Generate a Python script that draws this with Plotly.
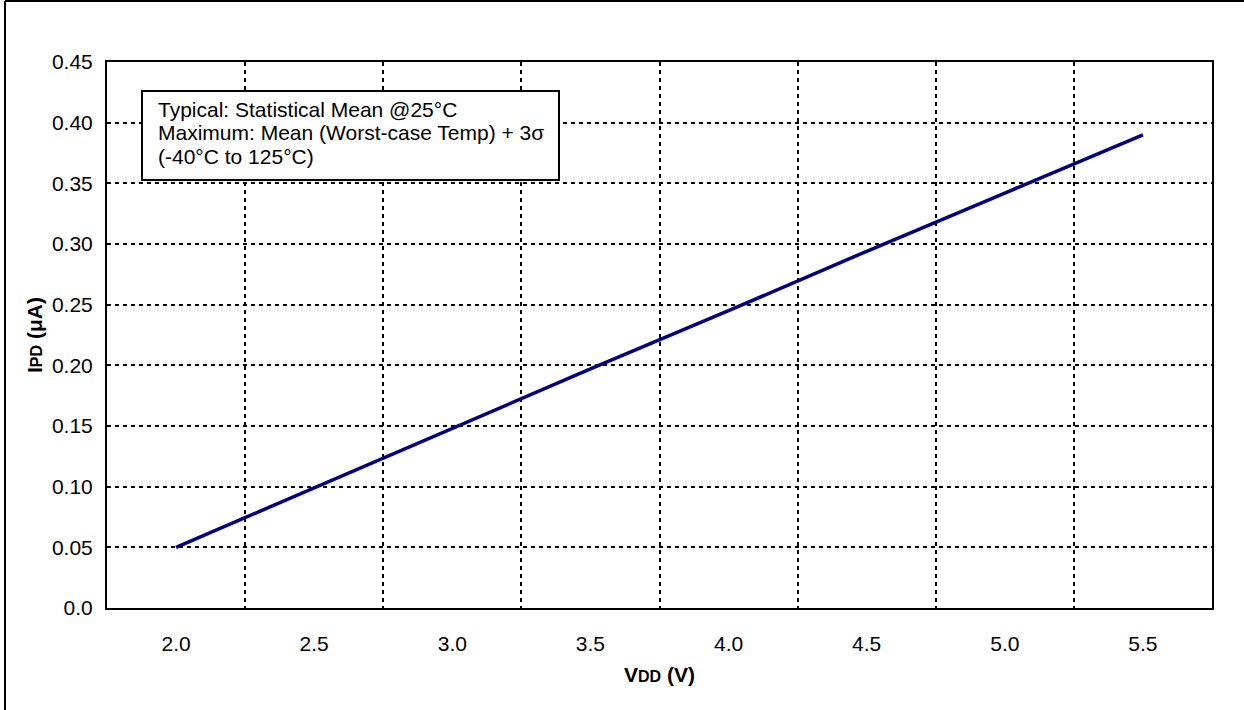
import plotly.graph_objects as go

# ---- data ----
vdd = [2.0, 2.5, 3.0, 3.5, 4.0, 4.5, 5.0, 5.5]
ipd = [0.050, 0.099, 0.148, 0.197, 0.245, 0.294, 0.342, 0.390]
x_tick_labels = ["2.0", "2.5", "3.0", "3.5", "4.0", "4.5", "5.0", "5.5"]
y_tick_vals = [0.0, 0.05, 0.10, 0.15, 0.20, 0.25, 0.30, 0.35, 0.40, 0.45]
y_tick_labels = ["0.0", "0.05", "0.10", "0.15", "0.20", "0.25", "0.30", "0.35", "0.40", "0.45"]
note_lines = [
    "Typical: Statistical Mean @25°C",
    "Maximum: Mean (Worst-case Temp) + 3σ",
    "(-40°C to 125°C)",
]

FONT = "Arial, 'Liberation Sans', sans-serif"
W, H = 1244, 710
ML, MR, MT, MB = 107, 32, 62, 102
PW, PH = W - ML - MR, H - MT - MB


def px_x(px):
    return (px - ML) / PW


def px_y(py):
    return (H - MB - py) / PH


fig = go.Figure()
fig.add_trace(go.Scatter(x=vdd, y=ipd, mode="lines",
                         line=dict(color="#000080", width=3.5),
                         showlegend=False, hoverinfo="skip"))

fig.update_layout(
    width=W, height=H,
    margin=dict(l=ML, r=MR, t=MT, b=MB),
    paper_bgcolor="white", plot_bgcolor="white",
    font=dict(family=FONT, size=21, color="black"),
    showlegend=False,
)

fig.update_xaxes(
    range=[1.75, 5.75],
    tickmode="array", tickvals=vdd, ticktext=x_tick_labels,
    showgrid=False, zeroline=False,
    showline=True, mirror=True, linecolor="black", linewidth=2,
    ticks="", ticklabelstandoff=16,
    tickfont=dict(family=FONT, size=21, color="black"),
    minor=dict(tick0=2.25, dtick=0.5, showgrid=True, gridcolor="black",
               griddash="4px,4px", gridwidth=2, ticks=""),
)
fig.update_yaxes(
    range=[0, 0.45],
    tickmode="array", tickvals=y_tick_vals, ticktext=y_tick_labels,
    showgrid=True, gridcolor="black", griddash="4px,4px", gridwidth=2,
    zeroline=False,
    showline=True, mirror=True, linecolor="black", linewidth=2,
    ticks="", ticklabelstandoff=8,
    tickfont=dict(family=FONT, size=21, color="black"),
)

# note box
fig.add_shape(type="rect", xref="paper", yref="paper",
              x0=px_x(142), x1=px_x(559), y0=px_y(180), y1=px_y(91),
              line=dict(color="black", width=2), fillcolor="white", layer="above")
for txt, cy in zip(note_lines, [109, 132.5, 156]):
    fig.add_annotation(text=txt, xref="paper", yref="paper",
                       x=px_x(156), y=px_y(cy), xanchor="left", yanchor="middle",
                       showarrow=False, font=dict(family=FONT, size=21, color="black"))

# axis titles
fig.add_annotation(text="<b>V<span style='font-size:16px'>DD</span> (V)</b>",
                   xref="paper", yref="paper", x=0.5, y=px_y(674),
                   xanchor="center", yanchor="middle", showarrow=False,
                   font=dict(family=FONT, size=21, color="black"))
fig.add_annotation(text="<b>I<span style='font-size:16px'>PD</span> (μA)</b>",
                   xref="paper", yref="paper", x=px_x(34), y=0.5,
                   xanchor="center", yanchor="middle", showarrow=False, textangle=-90,
                   font=dict(family=FONT, size=21, color="black"))

# outer frame (left and top edges)
fig.add_shape(type="line", xref="paper", yref="paper",
              x0=px_x(5), x1=px_x(5), y0=px_y(H + 5), y1=px_y(1),
              line=dict(color="black", width=2))
fig.add_shape(type="line", xref="paper", yref="paper",
              x0=px_x(5), x1=px_x(W + 5), y0=px_y(1), y1=px_y(1),
              line=dict(color="black", width=2))

fig.write_html("out.html",
               config={"displayModeBar": False},
               post_script="document.body.style.margin='0';document.body.style.overflow='hidden';")
